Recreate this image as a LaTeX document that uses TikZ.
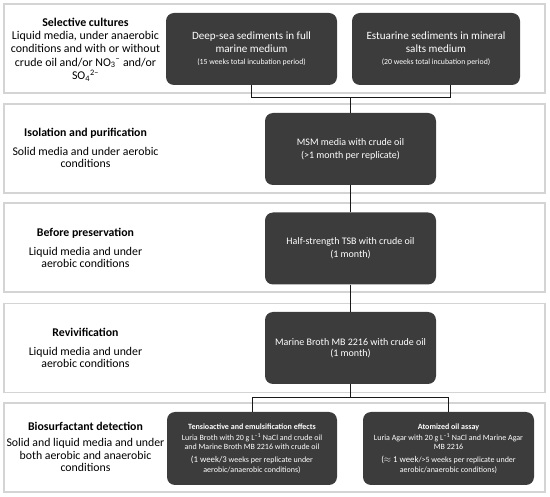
\documentclass[tikz,border=0pt]{standalone}
\usepackage{fontspec}
\setmainfont{Carlito}
\usetikzlibrary{calc}
\definecolor{boxfill}{RGB}{60,60,60}
\definecolor{panelline}{RGB}{212,212,212}
\newcommand{\tinyline}{\fontsize{7.8}{9}\selectfont}
\newcommand{\bigline}{\fontsize{8.8}{10}\selectfont}
\begin{document}
\begin{tikzpicture}[x=1pt,y=-1pt,
  panel/.style={draw=panelline, line width=1.3pt, minimum width=541pt, minimum height=89pt, inner sep=0pt},
  darkbox/.style={fill=boxfill, rounded corners=8pt, text=white, align=center, inner sep=0pt, minimum height=72pt},
  lefttext/.style={align=center, text=black, inner sep=0pt},
  conn/.style={draw=black!90, line width=1pt},
  bigtxt/.style={font=\fontsize{11.9}{13.3}\selectfont},
  titletxt/.style={font=\fontsize{11.1}{13.2}\selectfont},
  midtxt/.style={font=\fontsize{11.8}{12.4}\selectfont},
  boxtxt/.style={font=\fontsize{10}{13}\selectfont},
  smalltxt/.style={font=\fontsize{8}{9.6}\selectfont}
]
\useasboundingbox (0,0) rectangle (550,497);

% panels
\node[panel] (p1) at (274.5,48.5) {};
\node[panel] (p2) at (274.5,148.5) {};
\node[panel] (p3) at (274.5,247.5) {};
\node[panel] (p4) at (274.5,348) {};
\node[panel] (p5) at (274.5,447.5) {};

% left texts
\node[lefttext, bigtxt] (l1) at (85.5,49.5) {\textbf{Selective cultures}\\Liquid media, under anaerobic\\conditions and with or without\\crude oil and/or NO\textsubscript{3}\textsuperscript{--} and/or\\SO\textsubscript{4}\textsuperscript{2--}};
\node[lefttext, midtxt] (l2) at (85.5,148) {\textbf{Isolation and purification}\\[6.5pt]Solid media and under aerobic\\conditions};
\node[lefttext, midtxt] (l3) at (85.5,248) {\textbf{Before preservation}\\[6.5pt]Liquid media and under\\aerobic conditions};
\node[lefttext, midtxt] (l4) at (85.5,348) {\textbf{Revivification}\\[6.5pt]Liquid media and under\\aerobic conditions};
\node[lefttext, midtxt] (l5) at (85.5,447) {\textbf{Biosurfactant detection}\\[3.5pt]Solid and liquid media and under\\both aerobic and anaerobic\\conditions};

% dark boxes
\node[darkbox, minimum width=171pt, titletxt] (b1) at (251.5,49) {Deep-sea sediments in full\\marine medium\\[-1pt]\tinyline (15 weeks total incubation period)};
\node[darkbox, minimum width=168pt, titletxt] (b2) at (436,49) {Estuarine sediments in mineral\\salts medium\\[-1pt]\tinyline (20 weeks total incubation period)};
\node[darkbox, minimum width=171pt, boxtxt] (b3) at (350.5,149) {MSM media with crude oil\\(>1 month per replicate)};
\node[darkbox, minimum width=171pt, boxtxt] (b4) at (350.5,248.5) {Half-strength TSB with crude oil\\(1 month)};
\node[darkbox, minimum width=171pt, font=\fontsize{10}{11.5}\selectfont] (b5) at (350.5,348) {Marine Broth MB 2216 with crude oil\\(1 month)};
\node[darkbox, minimum width=170pt, minimum height=73pt, smalltxt] (b6) at (252,448.5) {\textbf{Tensioactive and emulsification effects}\\[1.5pt]Luria Broth with 20 g L\textsuperscript{--1} NaCl and crude oil\\and Marine Broth MB 2216 with crude oil\\[3.5pt]{\bigline (1 week/3} weeks per replicate under\\aerobic/anaerobic conditions)};
\node[darkbox, minimum width=171pt, minimum height=73pt, smalltxt] (b7) at (448.5,448.5) {\textbf{Atomized oil assay}\\[1.5pt]Luria Agar with 20 g L\textsuperscript{--1} NaCl and Marine Agar\\MB 2216\\[3.5pt]{\bigline ($\approx$ 1 week}/>5 weeks per replicate under\\aerobic/anaerobic conditions)};

% connectors
\coordinate (j1) at (350.5,98);
\coordinate (b2c) at ($(b2.south)+(14,0)$);
\draw[conn] (b1.south) |- (j1);
\draw[conn] (j1) -| (b2c);
\draw[conn] (j1) -- (b3.north);
\draw[conn] (b3.south) -- (b4.north);
\draw[conn] (b4.south) -- (b5.north);
\coordinate (j2) at (350.5,398);
\draw[conn] (b5.south) -- (j2);
\draw[conn] (j2) -| (b6.north);
\draw[conn] (j2) -| (b7.north);
\end{tikzpicture}
\end{document}
